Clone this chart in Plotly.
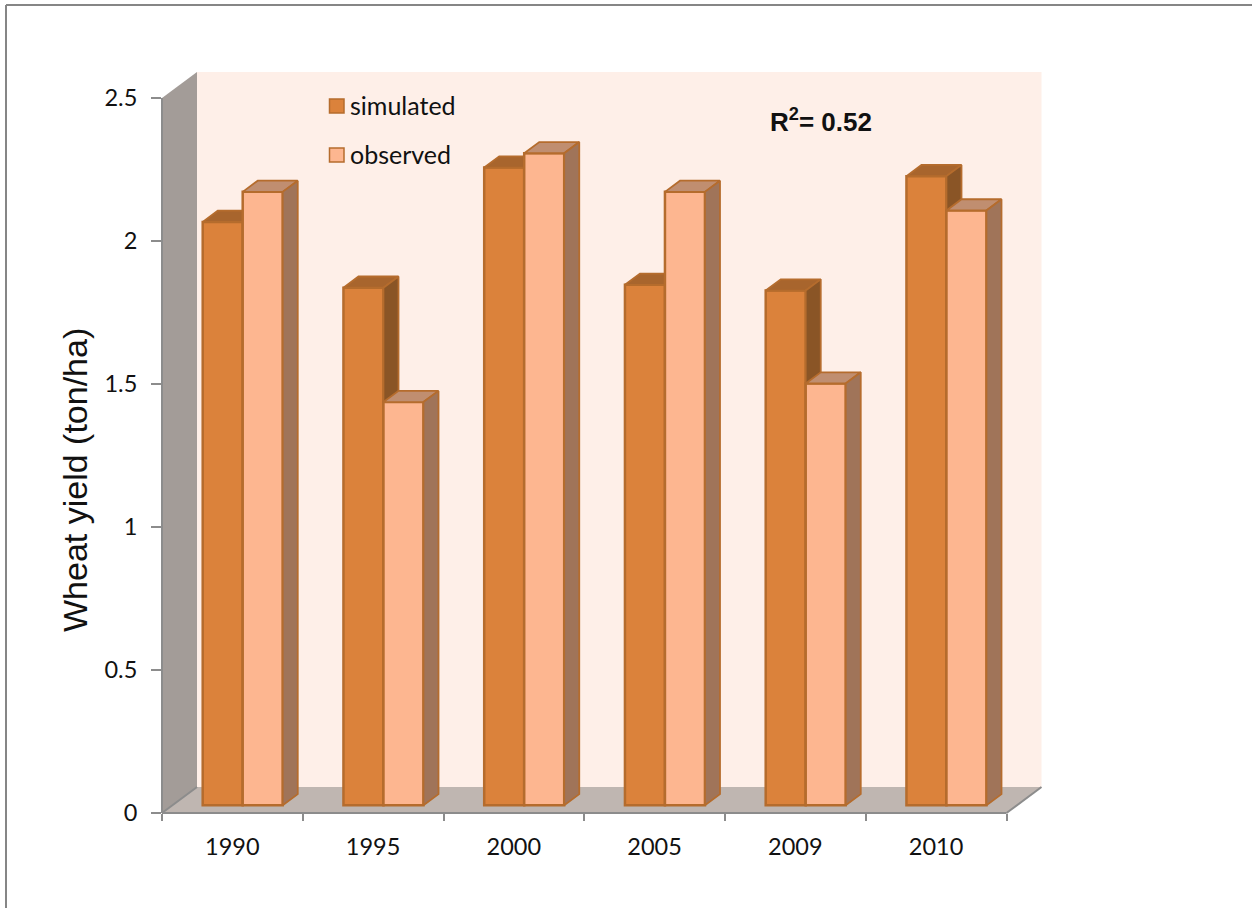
import plotly.graph_objects as go

# Wheat yield by year (ton/ha)
years = ["1990", "1995", "2000", "2005", "2009", "2010"]
simulated = [2.04, 1.81, 2.23, 1.82, 1.80, 2.20]
observed = [2.145, 1.41, 2.28, 2.145, 1.475, 2.08]
y_ticks = [0, 0.5, 1, 1.5, 2, 2.5]
y_tick_text = ["0", "0.5", "1", "1.5", "2", "2.5"]

# Page and plot frame, in pixels
WIDTH, HEIGHT = 1252, 908
LEFT, RIGHT, TOP, BOTTOM = 162, 1042, 72, 813
CAT_PX = 140.75
VAL_PX = 286.0

# Axis ranges so that categories and values land on the frame above
X_MIN = -0.5
X_MAX = X_MIN + (RIGHT - LEFT) / CAT_PX
Y_MIN = 0
Y_MAX = (BOTTOM - TOP) / VAL_PX

# Oblique projection of the chart's depth direction, in axis units
DEPTH_X = 35 / CAT_PX
DEPTH_Y = 26 / VAL_PX
BAR_FRONT = 0.295
BAR_BACK = 0.725
BAR_W = 40 / CAT_PX

# Colours
EDGE = "#B56C2D"
AXIS = "#8C8C8C"
WALL_BACK = "#FEEFE8"
WALL_SIDE = "#A39C98"
FLOOR = "#BFB6B1"
SIM = dict(front="#DB823B", top="#A8652D", side="#8A5526")
OBS = dict(front="#FDB690", top="#C08E70", side="#A07459")


def proj(x, v, depth):
    return x + depth * DEPTH_X, v + depth * DEPTH_Y


def px_x(x):
    return (x - X_MIN) * CAT_PX / (RIGHT - LEFT)


def px_y(v):
    return v * VAL_PX / (BOTTOM - TOP)


def poly_path(points):
    return "M" + "L".join(f"{x},{y}" for x, y in points) + "Z"


def polygon_shape(points, fill):
    return dict(type="path", xref="x", yref="y", path=poly_path(points),
                fillcolor=fill, line=dict(width=0), layer="below")


def edge_shape(a, b):
    return dict(type="line", xref="paper", yref="paper",
                x0=px_x(a[0]), y0=px_y(a[1]), x1=px_x(b[0]), y1=px_y(b[1]),
                line=dict(color=AXIS, width=2))


def faces(left, values, kind):
    """Closed polygons for the top or the side face of each bar."""
    xs, ys = [], []
    for i, v in enumerate(values):
        x0 = i + left
        x1 = x0 + BAR_W
        if kind == "top":
            corners = [proj(x0, v, BAR_FRONT), proj(x1, v, BAR_FRONT),
                       proj(x1, v, BAR_BACK), proj(x0, v, BAR_BACK)]
        else:
            corners = [proj(x1, 0, BAR_FRONT), proj(x1, v, BAR_FRONT),
                       proj(x1, v, BAR_BACK), proj(x1, 0, BAR_BACK)]
        corners.append(corners[0])
        xs += [c[0] for c in corners] + [None]
        ys += [c[1] for c in corners] + [None]
    return xs, ys


def add_series(fig, name, values, left, colours, xa, ya):
    base = proj(0, 0, BAR_FRONT)
    for kind in ("top", "side"):
        xs, ys = faces(left, values, kind)
        fig.add_trace(go.Scatter(
            x=xs, y=ys, mode="lines", fill="toself", fillcolor=colours[kind],
            line=dict(color=EDGE, width=1.8), hoverinfo="skip",
            showlegend=False, xaxis=xa, yaxis=ya))
    fig.add_trace(go.Bar(
        name=name, x=[i + left + BAR_W / 2 + base[0] for i in range(len(values))],
        y=values, base=base[1], width=BAR_W, marker=dict(
            color=colours["front"], line=dict(color=EDGE, width=2.5)),
        showlegend=False, hovertemplate=name + ": %{y}<extra></extra>",
        xaxis=xa, yaxis=ya))


fig = go.Figure()
add_series(fig, "simulated", simulated, -BAR_W, SIM, "x", "y")
add_series(fig, "observed", observed, 0, OBS, "x2", "y2")

x_end = len(years) - 0.5
shapes = [
    # Back wall, side wall and floor of the chart box
    polygon_shape([proj(X_MIN, Y_MIN, 1), proj(x_end, Y_MIN, 1),
                   proj(x_end, 2.5, 1), proj(X_MIN, 2.5, 1)], WALL_BACK),
    polygon_shape([proj(X_MIN, Y_MIN, 0), proj(X_MIN, Y_MIN, 1),
                   proj(X_MIN, 2.5, 1), proj(X_MIN, 2.5, 0)], WALL_SIDE),
    polygon_shape([proj(X_MIN, Y_MIN, 0), proj(x_end, Y_MIN, 0),
                   proj(x_end, Y_MIN, 1), proj(X_MIN, Y_MIN, 1)], FLOOR),
    # Box edges
    edge_shape(proj(X_MIN, 0, 0), proj(X_MIN, 2.5, 0)),
    edge_shape(proj(X_MIN, 0, 0), proj(x_end, 0, 0)),
    edge_shape(proj(X_MIN, 0, 0), proj(X_MIN, 0, 1)),
    edge_shape(proj(x_end, 0, 0), proj(x_end, 0, 1)),
    # Outer border of the picture area
    dict(type="line", xref="paper", yref="paper", line=dict(color="#868686", width=2),
         x0=(6 - LEFT) / (RIGHT - LEFT), x1=(WIDTH - LEFT) / (RIGHT - LEFT),
         y0=(BOTTOM - 5) / (BOTTOM - TOP), y1=(BOTTOM - 5) / (BOTTOM - TOP)),
    dict(type="line", xref="paper", yref="paper", line=dict(color="#868686", width=2),
         x0=(6 - LEFT) / (RIGHT - LEFT), x1=(6 - LEFT) / (RIGHT - LEFT),
         y0=(BOTTOM - 5) / (BOTTOM - TOP), y1=(BOTTOM - HEIGHT) / (BOTTOM - TOP)),
]


def page_x(px):
    return (px - LEFT) / (RIGHT - LEFT)


def page_y(px):
    return (BOTTOM - px) / (BOTTOM - TOP)


# Key swatches
for cy, colour in ((106, SIM["front"]), (155, OBS["front"])):
    shapes.append(dict(type="rect", xref="paper", yref="paper",
                       x0=page_x(329.5), x1=page_x(344), y0=page_y(cy - 7), y1=page_y(cy + 7),
                       fillcolor=colour, line=dict(color=EDGE, width=1.5)))


def label(text, x, y, size, family, angle=0, xanchor="left"):
    return dict(text=text, xref="paper", yref="paper", x=page_x(x), y=page_y(y),
                xanchor=xanchor, yanchor="middle", showarrow=False, textangle=angle,
                font=dict(size=size, family=family, color="#111111"))


annotations = [
    label("simulated", 348, 105, 25, "Lato"),
    label("observed", 348, 154, 25, "Lato"),
    label("<b>R<sup>2</sup>= 0.52</b>", 768, 121, 26, "Liberation Sans"),
    label("Wheat yield (ton/ha)", 75, 480, 34, "Liberation Sans", angle=-90, xanchor="center"),
]

fig.update_layout(
    width=WIDTH, height=HEIGHT, autosize=False,
    margin=dict(l=LEFT, r=WIDTH - RIGHT, t=TOP, b=HEIGHT - BOTTOM, pad=0),
    paper_bgcolor="white", plot_bgcolor="rgba(0,0,0,0)", barmode="overlay",
    showlegend=False, shapes=shapes, annotations=annotations,
    xaxis=dict(
        range=[X_MIN, X_MAX], tickvals=list(range(len(years))), ticktext=years,
        ticks="", showgrid=False, zeroline=False, showline=False,
        tickfont=dict(family="Lato", size=23.5, color="#111111"), ticklabelstandoff=17,
        minor=dict(tickvals=[i - 0.5 for i in range(len(years) + 1)], ticks="outside",
                   ticklen=7, tickwidth=2, tickcolor=AXIS, showgrid=False)),
    yaxis=dict(
        range=[Y_MIN, Y_MAX], tickvals=y_ticks, ticktext=y_tick_text, ticks="outside",
        ticklen=10, tickwidth=2, tickcolor=AXIS, showgrid=False, zeroline=False,
        showline=False, tickfont=dict(family="Lato", size=23.5, color="#111111"),
        ticklabelstandoff=9),
    xaxis2=dict(overlaying="x", matches="x", visible=False),
    yaxis2=dict(overlaying="y", matches="y", visible=False),
)

fig.write_html("out.html")
